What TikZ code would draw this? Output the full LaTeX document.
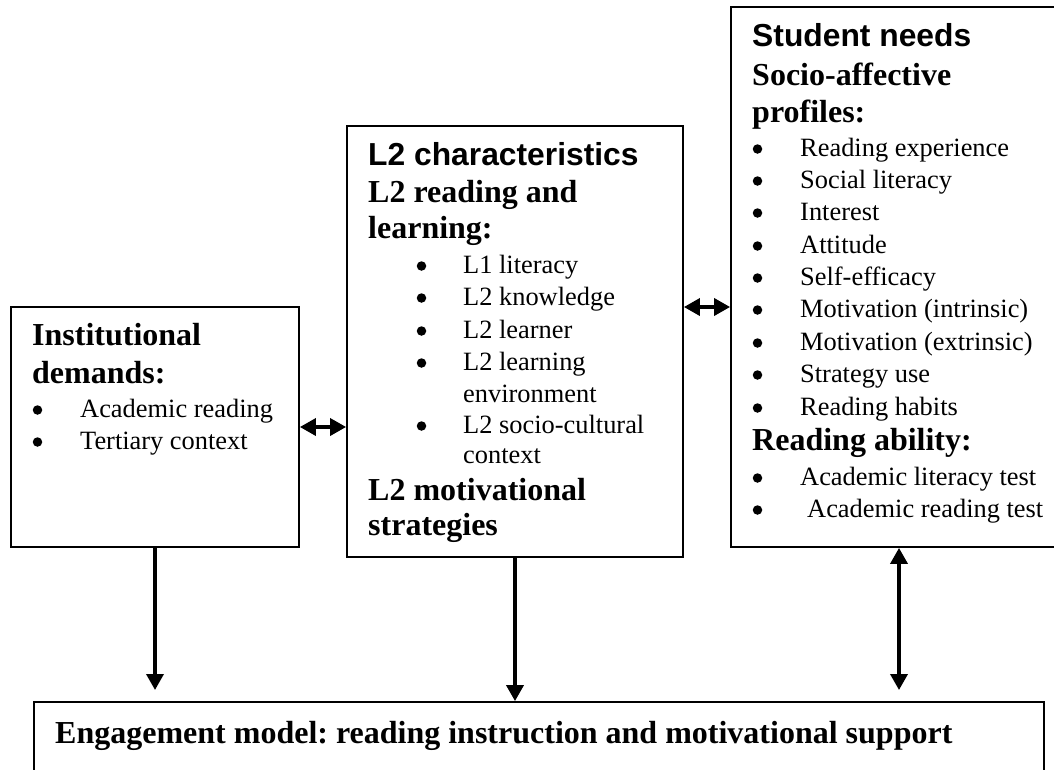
\documentclass[tikz,border=0pt]{standalone}
\usepackage{fontspec}
\setmainfont{Liberation Serif}
\newfontfamily\arialfont{Liberation Sans}
\usetikzlibrary{arrows.meta}
\begin{document}
\frenchspacing
\begin{tikzpicture}[x=1pt,y=-1pt,
  box/.style={draw, line width=1.8pt, rectangle, inner sep=0pt},
  txt/.style={anchor=base west, inner sep=0pt, font=\fontsize{26.4}{30}\selectfont\frenchspacing},
  dot/.style={circle, fill, inner sep=0pt, minimum size=9.5pt},
  hd/.style={anchor=base west, inner sep=0pt, font=\fontsize{32}{36}\selectfont\bfseries\frenchspacing},
  hda/.style={anchor=base west, inner sep=0pt, font=\fontsize{31.8}{36}\selectfont\arialfont\bfseries},
  arr/.style={line width=3.5pt, -{Triangle[length=16pt,width=17pt]}},
  darr/.style={line width=3.5pt, {Triangle[length=16pt,width=17pt]}-{Triangle[length=16pt,width=17pt]}}
]
\useasboundingbox (0,0) rectangle (1054,769);
\begin{scope}
\clip (0,0) rectangle (1054,769);
% boxes
\node[box, minimum width=288pt, minimum height=240pt] (inst) at (155,427) {};
\node[box, minimum width=336pt, minimum height=431pt] (mid) at (515,341.5) {};
\node[box, minimum width=336pt, minimum height=540pt] (rt) at (899,277) {};
\node[box, minimum width=1010pt, minimum height=110pt] (bot) at (539,757) {};

% left box text
\node[hd] (i1) at (32,345) {Institutional};
\node[hd] (i2) at (32,383) {demands:};
\node[dot] (ib1) at (37.5,410) {}; \node[txt] (it1) at (80,417) {Academic reading};
\node[dot] (ib2) at (37.5,442) {}; \node[txt] (it2) at (80,449) {Tertiary context};

% middle box text
\node[hda] (m0) at (368,165) {L2 characteristics};
\node[hd] (m1) at (368,202) {L2 reading and};
\node[hd] (m2) at (368,238) {learning:};
\node[dot] (mb1) at (421.5,266) {}; \node[txt] (mt1) at (463,273) {L1 literacy};
\node[dot] (mb2) at (421.5,298) {}; \node[txt] (mt2) at (463,305) {L2 knowledge};
\node[dot] (mb3) at (421.5,331) {}; \node[txt] (mt3) at (463,338) {L2 learner};
\node[dot] (mb4) at (421.5,363) {}; \node[txt] (mt4) at (463,370) {L2 learning};
\node[txt] (mt4b) at (463,402) {environment};
\node[dot] (mb5) at (421.5,426) {}; \node[txt] (mt5) at (463,433) {L2 socio-cultural};
\node[txt] (mt5b) at (463,463) {context};
\node[hd] (m3) at (368,500) {L2 motivational};
\node[hd] (m4) at (368,535) {strategies};

% right box text
\node[hda] (r0) at (752,46) {Student needs};
\node[hd] (r1) at (752,85) {Socio-affective};
\node[hd] (r2) at (752,122) {profiles:};
\node[dot] (rb1) at (757.5,149) {}; \node[txt] (rt1) at (800,156) {Reading experience};
\node[dot] (rb2) at (757.5,181) {}; \node[txt] (rt2) at (800,188) {Social literacy};
\node[dot] (rb3) at (757.5,213) {}; \node[txt] (rt3) at (800,220) {Interest};
\node[dot] (rb4) at (757.5,246) {}; \node[txt] (rt4) at (800,253) {Attitude};
\node[dot] (rb5) at (757.5,278) {}; \node[txt] (rt5) at (800,285) {Self-efficacy};
\node[dot] (rb6) at (757.5,310) {}; \node[txt] (rt6) at (800,317) {Motivation (intrinsic)};
\node[dot] (rb7) at (757.5,343) {}; \node[txt] (rt7) at (800,350) {Motivation (extrinsic)};
\node[dot] (rb8) at (757.5,375) {}; \node[txt] (rt8) at (800,382) {Strategy use};
\node[dot] (rb9) at (757.5,408) {}; \node[txt] (rt9) at (800,415) {Reading habits};
\node[hd] (r3) at (752,450) {Reading ability:};
\node[dot] (rb10) at (757.5,478) {}; \node[txt] (rt10) at (800,485) {Academic literacy test};
\node[dot] (rb11) at (757.5,510) {}; \node[txt] (rt11) at (807,517) {Academic reading test};

% bottom text
\node[hd] (b0) at (55,743) {Engagement model: reading instruction and motivational support};

% connectors
\coordinate (yref) at (0,307);
\coordinate (lend) at (155,690);
\coordinate (rend) at (899,690);
\draw[darr] (inst.east) -- (mid.west |- inst.east);
\draw[darr] (mid.east |- yref) -- (rt.west |- yref);
\draw[arr] (inst.south) -- (lend);
\draw[arr] (mid.south) -- (mid.south |- bot.north);
\draw[darr] (rt.south) -- (rend);
\end{scope}
\end{tikzpicture}
\end{document}
